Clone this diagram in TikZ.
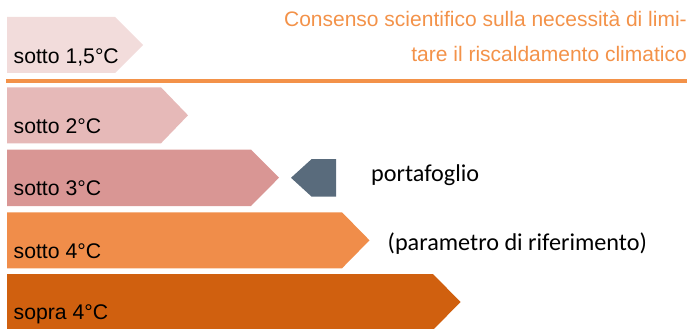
\documentclass[tikz,border=0pt]{standalone}
\usepackage{fontspec}
\setmainfont{Liberation Sans}
\newfontfamily\calib{Carlito}
\definecolor{cA}{HTML}{F2DCDB}
\definecolor{cB}{HTML}{E6B9B8}
\definecolor{cC}{HTML}{D99694}
\definecolor{cD}{HTML}{F08D4A}
\definecolor{cE}{HTML}{D0600F}
\definecolor{slate}{HTML}{596B7C}
\definecolor{accent}{HTML}{F39249}
\begin{document}
\begin{tikzpicture}[x=1pt,y=-1pt,
  lbl/.style={anchor=base west,inner sep=0pt,font=\fontsize{21.2}{25}\selectfont,text=black},
  ttl/.style={anchor=base east,inner sep=0pt,font=\fontsize{21}{25}\selectfont,text=accent},
  cal/.style={anchor=base west,inner sep=0pt,font=\calib\fontsize{24.2}{28}\selectfont,text=black}]
\useasboundingbox (0,0) rectangle (691,329);
% arrows: left x=7
\fill[cA] (7,17) -- (115,17) -- (143,45) -- (115,73) -- (7,73) -- cycle;
\fill[cB] (7,87.3) -- (161,87.3) -- (188,115.3) -- (161,143.3) -- (7,143.3) -- cycle;
\fill[cC] (7,149.5) -- (251,149.5) -- (279,177.7) -- (251,206) -- (7,206) -- cycle;
\fill[cD] (7,212.3) -- (342,212.3) -- (369.5,240.3) -- (342,268.3) -- (7,268.3) -- cycle;
\fill[cE] (7,274) -- (433,274) -- (460.5,302) -- (433,330) -- (7,330) -- cycle;
% separator
\fill[accent] (6,79.5) rectangle (687,82.7);
% portafoglio marker
\fill[slate] (291,177.8) -- (311.7,159) -- (336,159) -- (336,196.7) -- (311.7,196.7) -- cycle;
% labels
\node[lbl] (l1) at (13.5,63.3) {sotto 1,5°C};
\node[lbl] (l2) at (13.5,133.3) {sotto 2°C};
\node[lbl] (l3) at (13.5,195.5) {sotto 3°C};
\node[lbl] (l4) at (13.5,258.3) {sotto 4°C};
\node[lbl] (l5) at (13.5,319.5) {sopra 4°C};
\node[ttl] (t1) at (687,26.7) {Consenso scientifico sulla necessità di limi-};
\node[ttl] (t2) at (687,61.7) {tare il riscaldamento climatico};
\node[cal] (p1) at (371,181.7) {portafoglio};
\node[cal] (p2) at (387.5,250) {(parametro di riferimento)};
\end{tikzpicture}
\end{document}
